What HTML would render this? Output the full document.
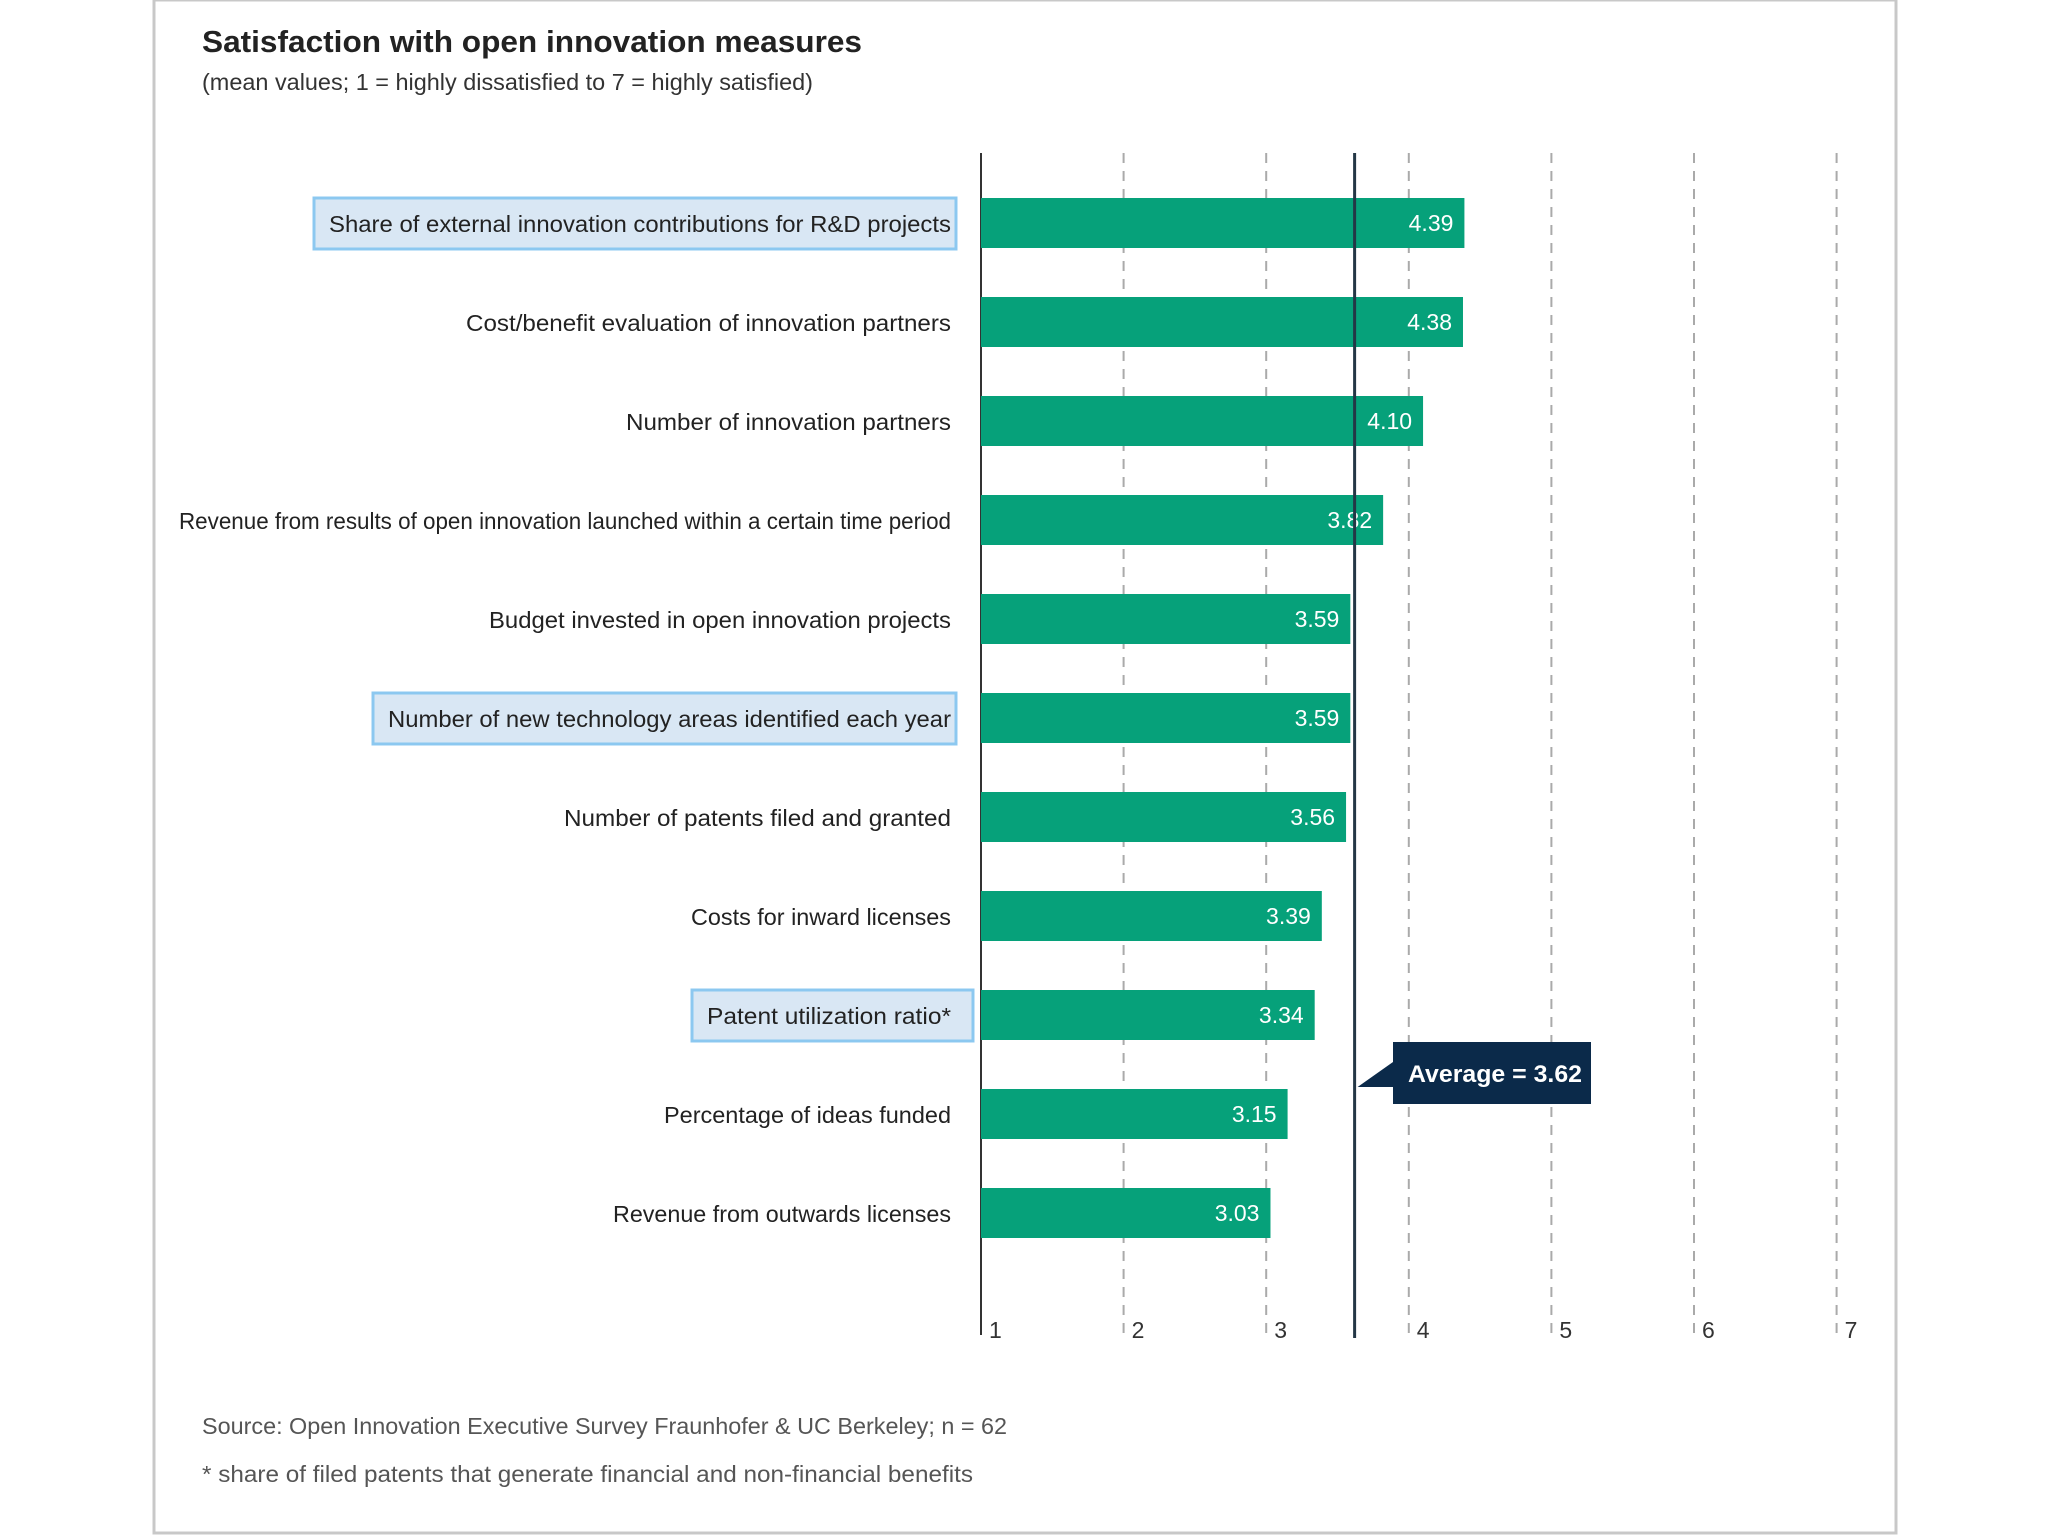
<!DOCTYPE html>
<html><head><meta charset="utf-8"><style>
html,body{margin:0;padding:0;background:#fff}
svg{display:block;font-family:"Liberation Sans",sans-serif}
</style></head><body>
<svg id="chart" width="2048" height="1536" viewBox="0 0 2048 1536">
<rect x="154" y="0" width="1742" height="1533" fill="#fff" stroke="#c8c8c8" stroke-width="3"/>
<text x="202" y="52" font-size="31" font-weight="bold" fill="#222" textLength="660" lengthAdjust="spacingAndGlyphs">Satisfaction with open innovation measures</text>
<text x="202" y="90" font-size="23" fill="#333" textLength="611" lengthAdjust="spacingAndGlyphs">(mean values; 1 = highly dissatisfied to 7 = highly satisfied)</text>
<g id="grid"></g>
<g id="highlights"></g>
<g id="bars"></g>
<g id="labels"></g>
<g id="avg"></g>
<text x="202" y="1434" font-size="23" fill="#555" textLength="805" lengthAdjust="spacingAndGlyphs">Source: Open Innovation Executive Survey Fraunhofer &amp; UC Berkeley; n = 62</text>
<text x="202" y="1482" font-size="23" fill="#555" textLength="771" lengthAdjust="spacingAndGlyphs">* share of filed patents that generate financial and non-financial benefits</text>
</svg>
<script>
const categories = ["Share of external innovation contributions for R&D projects","Cost/benefit evaluation of innovation partners","Number of innovation partners","Revenue from results of open innovation launched within a certain time period","Budget invested in open innovation projects","Number of new technology areas identified each year","Number of patents filed and granted","Costs for inward licenses","Patent utilization ratio*","Percentage of ideas funded","Revenue from outwards licenses"];
const values = [4.39,4.38,4.10,3.82,3.59,3.59,3.56,3.39,3.34,3.15,3.03];
const valueLabels = ["4.39","4.38","4.10","3.82","3.59","3.59","3.56","3.39","3.34","3.15","3.03"];
const highlighted = [true,false,false,false,false,true,false,false,true,false,false];
const labelWidths = [622,485,325,772,462,563,387,260,244,287,338];
const ticks = [1,2,3,4,5,6,7];
const average = 3.62;

const NS="http://www.w3.org/2000/svg";
const xScale = v => 981 + (v-1)*142.6;
const yCenter = i => 223 + i*99;
const barH = 50;
function mk(tag, attrs, parent){const e=document.createElementNS(NS,tag);for(const k in attrs)e.setAttribute(k,attrs[k]);parent.appendChild(e);return e;}
const grid=document.getElementById('grid'), hl=document.getElementById('highlights'), bars=document.getElementById('bars'), labels=document.getElementById('labels'), avg=document.getElementById('avg');

ticks.forEach(t=>{
  const x=xScale(t);
  const l=mk('line',{x1:x,x2:x,y1:153,y2:1335,stroke:t===1?'#333':'#aaa','stroke-width':2,'stroke-dasharray':t===1?'none':'10,8'},grid);
  
  
  const tx=mk('text',{x:x+8,y:1338,'font-size':23,fill:'#333'},grid);
  tx.textContent=t;
  
  
});

categories.forEach((c,i)=>{
  const yc=yCenter(i);
  if(highlighted[i]){
    const w=labelWidths[i]+20;
    const r=mk('rect',{x:956-w,y:yc-25,width:w+(i===8?17:0),height:51,fill:'#d9e7f4',stroke:'#8cc8f0','stroke-width':3},hl);
    
    
  }
  const b=mk('rect',{x:xScale(1),y:yc-barH/2,width:xScale(values[i])-xScale(1),height:barH,fill:'#06a17a'},bars);
  
  
  const v=mk('text',{x:xScale(values[i])-11,y:yc+8,'font-size':23,fill:'#fff','text-anchor':'end'},bars);
  v.textContent=valueLabels[i];
  
  
  const t=mk('text',{x:951,y:yc+9,'font-size':23,fill:'#222','text-anchor':'end',textLength:labelWidths[i],lengthAdjust:'spacingAndGlyphs'},labels);
  t.textContent=c;
  
  
});

const ax=xScale(average);
const al=mk('line',{x1:ax,x2:ax,y1:153,y2:1338,stroke:'#243746','stroke-width':3},avg);


const ap=mk('path',{d:`M${ax+3} 1087 L1393 1062 L1393 1104 L1393 1087 Z`,fill:'#0b2a4a'},avg);


const ab=mk('rect',{x:1393,y:1042,width:198,height:62,fill:'#0b2a4a'},avg);


const at=mk('text',{x:1408,y:1082,'font-size':24,'font-weight':'bold',fill:'#fff',textLength:174,lengthAdjust:'spacingAndGlyphs'},avg);
at.textContent='Average = '+average.toFixed(2);


</script>
</body></html>
